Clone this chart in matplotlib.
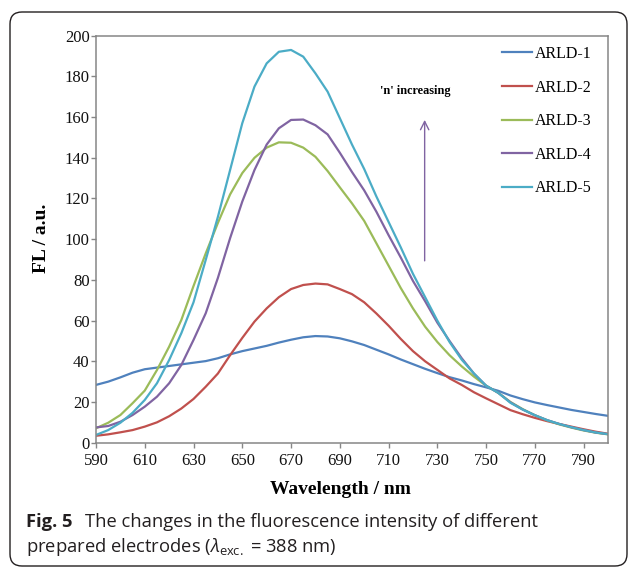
import matplotlib
matplotlib.use("Agg")
import matplotlib.pyplot as plt
from matplotlib.patches import FancyBboxPatch
from matplotlib.transforms import IdentityTransform

plt.rcParams["font.family"] = "Liberation Serif"
plt.rcParams["mathtext.fontset"] = "custom"
plt.rcParams["mathtext.rm"] = "Open Sans"
plt.rcParams["mathtext.it"] = "Open Sans:italic"

# emission spectra, FL (a.u.) vs wavelength (nm), every 5 nm
wavelength = list(range(590, 801, 5))
arld_1 = [28.4, 30.0, 32.1, 34.4, 36.1, 36.9, 37.7, 38.5, 39.3, 40.1, 41.5,
          43.4, 45.0, 46.3, 47.6, 49.2, 50.6, 51.8, 52.4, 52.2, 51.3, 49.8,
          48.0, 45.7, 43.4, 40.9, 38.6, 36.3, 34.2, 32.2, 30.6, 28.8, 27.2,
          25.5, 23.2, 21.4, 19.8, 18.5, 17.3, 16.1, 15.1, 14.1, 13.2]
arld_2 = [3.4, 4.1, 5.1, 6.2, 7.9, 10.0, 13.0, 16.8, 21.5, 27.5, 34.0,
          43.0, 51.5, 59.5, 66.0, 71.5, 75.5, 77.5, 78.2, 77.8, 75.5, 73.0,
          69.0, 63.5, 57.5, 51.0, 45.0, 40.0, 35.8, 31.6, 28.4, 24.8, 21.8,
          18.9, 16.0, 14.0, 12.2, 10.6, 9.2, 7.9, 6.6, 5.4, 4.4]
arld_3 = [7.1, 9.8, 13.6, 19.4, 25.6, 35.7, 47.2, 60.3, 77.0, 93.0, 108.0,
          122.0, 132.5, 140.0, 145.0, 147.6, 147.4, 145.0, 140.5, 133.5, 125.5,
          117.6, 109.0, 98.0, 87.0, 76.0, 66.0, 57.0, 49.5, 43.0, 37.5, 32.5,
          28.0, 24.5, 20.0, 16.5, 13.5, 11.0, 9.0, 7.4, 6.0, 4.9, 4.1]
arld_4 = [7.5, 8.2, 10.3, 13.6, 17.7, 22.6, 29.2, 38.2, 50.5, 63.6, 81.0,
          100.5, 118.5, 134.0, 146.5, 154.5, 158.6, 158.8, 156.0, 151.5, 142.5,
          133.0, 124.0, 113.5, 102.0, 91.0, 79.5, 69.5, 59.0, 50.0, 41.5, 34.0,
          28.0, 24.5, 19.8, 16.3, 13.5, 11.1, 9.2, 7.6, 6.2, 5.0, 4.2]
arld_5 = [3.8, 6.2, 9.8, 14.7, 21.0, 29.2, 40.6, 53.8, 69.0, 89.8, 111.0,
          134.0, 157.0, 175.0, 186.4, 192.1, 193.0, 189.7, 181.5, 172.5, 159.5,
          146.5, 134.5, 121.0, 108.5, 96.0, 83.0, 71.5, 60.0, 49.5, 40.8, 34.0,
          28.0, 24.5, 19.6, 16.3, 13.5, 11.1, 9.2, 7.6, 6.2, 5.0, 4.2]

series = [("ARLD-1", arld_1, "#4F81BD"),
          ("ARLD-2", arld_2, "#C0504D"),
          ("ARLD-3", arld_3, "#9BBB59"),
          ("ARLD-4", arld_4, "#8064A2"),
          ("ARLD-5", arld_5, "#4BACC6")]

xticks = list(range(590, 800, 20))
yticks = list(range(0, 201, 20))

fig = plt.figure(figsize=(6.29, 5.67), dpi=100)
ax = fig.add_axes([96 / 629, 1 - 442.7 / 567, 512 / 629, 407 / 567])

for name, vals, col in series:
    ax.plot(wavelength, vals, color=col, lw=1.6, label=name,
            solid_joinstyle="round")

ax.set_xlim(590, 800)
ax.set_ylim(0, 200)
ax.set_xticks(xticks)
ax.set_yticks(yticks)
ax.tick_params(direction="out", length=3.6, width=1.0, color="#868686",
               labelsize=12, labelcolor="#111111")
ax.tick_params(axis="x", pad=4)
ax.tick_params(axis="y", pad=1)
for sp in ax.spines.values():
    sp.set_color("#868686")
    sp.set_linewidth(1.1)

# arrow showing the trend with n
ax.annotate("", xy=(724.8, 160), xytext=(724.8, 88),
            arrowprops=dict(arrowstyle="->,head_length=0.6,head_width=0.3",
                            color="#8064A2", lw=1.0))
ax.text(720.8, 172.8, "'n' increasing", fontsize=8.8, fontweight="bold",
        ha="center", va="center")

ax.legend(loc="upper left", bbox_to_anchor=(502 / 629, 1 - 46 / 567),
          bbox_transform=fig.transFigure, frameon=False, fontsize=11.5,
          borderpad=0, borderaxespad=0, handlelength=1.9, handletextpad=0.15,
          labelspacing=1.1)

fig.text(42 / 629, 1 - 238 / 567, "FL / a.u.", rotation=90, fontsize=14,
         fontweight="bold", ha="center", va="center")
fig.text(340 / 629, 1 - 490 / 567, "Wavelength / nm", fontsize=14,
         fontweight="bold", ha="center", va="center")

# caption
fig.text(26 / 629, 1 - 522 / 567, "Fig. 5", family="Open Sans", fontsize=13.2,
         fontweight="bold", color="#231F20", va="center")
fig.text(85 / 629, 1 - 522 / 567,
         "The changes in the fluorescence intensity of different",
         family="Open Sans", fontsize=13.2, color="#231F20", va="center")
fig.text(26 / 629, 1 - 547 / 567,
         r"prepared electrodes ($\mathit{\lambda}_{\mathrm{exc.}}$ = 388 nm)",
         family="Open Sans", fontsize=13.2, color="#231F20", va="center")

frame = FancyBboxPatch((10, 1), 617, 554,
                       boxstyle="round,pad=0,rounding_size=12",
                       transform=IdentityTransform(), fill=False,
                       ec="#231F20", lw=1.0)
fig.patches.append(frame)

fig.savefig("out.png", dpi=100)
